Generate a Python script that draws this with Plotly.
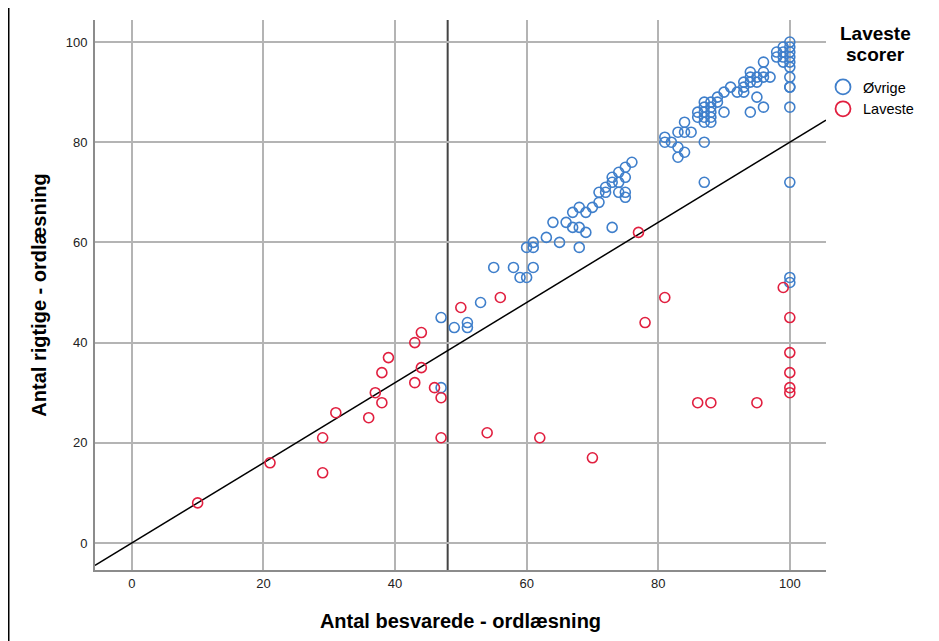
import plotly.graph_objects as go

# ---- data ----
ovrige_x = [47, 49, 51, 51, 47, 53, 55, 58, 59, 60, 61, 60, 61, 61, 63, 65, 68, 64, 66, 67,
            68, 69, 67, 68, 69, 70, 71, 71, 72, 72, 73, 73, 74, 74, 75, 76, 75, 74, 75, 75,
            73, 87,
            81, 81, 82, 83, 84, 83, 83, 84, 85, 84, 87,
            86, 86, 87, 87, 87, 87, 87, 88, 88, 88, 88, 88, 89, 89, 90, 90, 91, 92, 93, 93,
            93, 94, 94, 94, 94, 95, 95, 95, 96, 96, 96, 96, 97, 98, 98, 99, 99, 99, 99,
            100, 100, 100, 100, 100, 100, 100, 100, 100, 100, 100, 100, 100]
ovrige_y = [45, 43, 44, 43, 31, 48, 55, 55, 53, 53, 55, 59, 60, 59, 61, 60, 59, 64, 64, 63,
            63, 62, 66, 67, 66, 67, 68, 70, 70, 71, 72, 73, 72, 74, 75, 76, 73, 70, 70, 69,
            63, 72,
            81, 80, 80, 79, 78, 77, 82, 82, 82, 84, 80,
            86, 85, 88, 87, 86, 85, 84, 87, 86, 85, 84, 88, 89, 88, 90, 86, 91, 90, 92, 91,
            90, 94, 93, 92, 86, 93, 92, 89, 96, 94, 93, 87, 93, 98, 97, 99, 98, 97, 96,
            100, 99, 98, 97, 96, 95, 93, 91, 91, 87, 72, 53, 52]

laveste_x = [10, 21, 29, 29, 31, 36, 37, 38, 38, 39, 43, 43, 44, 44, 46, 47, 47, 50, 54, 56,
             62, 70, 77, 78, 81, 86, 88, 95, 99, 100, 100, 100, 100, 100]
laveste_y = [8, 16, 14, 21, 26, 25, 30, 34, 28, 37, 40, 32, 42, 35, 31, 29, 21, 47, 22, 49,
             21, 17, 62, 44, 49, 28, 28, 28, 51, 45, 38, 34, 31, 30]

series_names = ["Øvrige", "Laveste"]
legend_title_lines = ["Laveste", "scorer"]
x_title = "Antal besvarede - ordlæsning"
y_title = "Antal rigtige - ordlæsning"
tick_vals = [0, 20, 40, 60, 80, 100]

REF_X = 48          # vertical reference line
FIT_SLOPE = 0.8     # diagonal reference line y = 0.8 x
X_RANGE = [-5.6, 105.5]
Y_RANGE = [-5.4, 104.4]

BLUE = "#3f7fcb"
RED = "#e11f3f"
FONT = "Liberation Sans, Arial, sans-serif"

# page offset of the figure (browser body margin)
OFF = 8
FIG_W, FIG_H = 939 - OFF, 641 - OFF
# plot area in page pixels
L, R, T, B = 95 - OFF, 826 - OFF, 20 - OFF, 570 - OFF
W, H = R - L, B - T


def px2paper_x(p):
    return (p - L) / W


def px2paper_y(p):
    return (B - p) / H


fig = go.Figure()

# diagonal line
fig.add_trace(go.Scatter(
    x=X_RANGE, y=[FIT_SLOPE * v for v in X_RANGE], mode="lines",
    line=dict(color="black", width=1.5), showlegend=False, hoverinfo="skip"))

marker_common = dict(symbol="circle-open", size=10, line=dict(width=1.6))

fig.add_trace(go.Scatter(
    x=ovrige_x, y=ovrige_y, mode="markers", name=series_names[0],
    marker=dict(color=BLUE, **marker_common), showlegend=False))
fig.add_trace(go.Scatter(
    x=laveste_x, y=laveste_y, mode="markers", name=series_names[1],
    marker=dict(color=RED, **marker_common), showlegend=False))

# legend-only entries with larger symbols
for nm, col in zip(series_names, [BLUE, RED]):
    fig.add_trace(go.Scatter(
        x=[None], y=[None], mode="markers", name=nm,
        marker=dict(color=col, symbol="circle-open", size=15, line=dict(width=1.8))))

# vertical reference line
fig.add_shape(type="line", xref="x", yref="paper", x0=REF_X, x1=REF_X, y0=0, y1=1,
              line=dict(color="#444444", width=2), layer="below")

# outer frame line at the left edge
fig.add_shape(type="line", xref="paper", yref="paper",
              x0=px2paper_x(0.75), x1=px2paper_x(0.75),
              y0=px2paper_y(0), y1=px2paper_y(FIG_H),
              line=dict(color="black", width=1.5))

# legend title (centered, two lines)
for i, line_txt in enumerate(legend_title_lines):
    fig.add_annotation(
        text=f"<b>{line_txt}</b>", xref="paper", yref="paper",
        x=px2paper_x(875 - OFF), y=px2paper_y(33 + 22 * i - OFF),
        xanchor="center", yanchor="middle", showarrow=False,
        font=dict(family=FONT, size=19, color="black"))

axis_common = dict(
    showgrid=True, gridcolor="#b4b4b4", gridwidth=2,
    zeroline=False, showline=True, linecolor="#8c8c8c", linewidth=2,
    tickvals=tick_vals,
    tickfont=dict(family=FONT, size=13, color="#222222"),
    automargin=False,
)

fig.update_layout(
    width=FIG_W, height=FIG_H,
    margin=dict(l=L, r=FIG_W - R, t=T, b=FIG_H - B),
    paper_bgcolor="white", plot_bgcolor="white",
    font=dict(family=FONT, color="black"),
    xaxis=dict(range=X_RANGE, ticks="",
               title=dict(text=x_title, standoff=24,
                          font=dict(family=FONT, size=20, color="black", weight="bold")),
               **axis_common),
    yaxis=dict(range=Y_RANGE, ticks="outside", ticklen=3, tickcolor="rgba(0,0,0,0)",
               title=dict(text=y_title, standoff=14,
                          font=dict(family=FONT, size=20, color="black", weight="bold")),
               **axis_common),
    legend=dict(
        x=px2paper_x(823 - OFF), y=px2paper_y(71 - OFF), xanchor="left", yanchor="top",
        font=dict(family=FONT, size=14.5, color="black"),
        itemwidth=30, tracegroupgap=0, bgcolor="rgba(0,0,0,0)",
    ),
)

fig.write_html("out.html")
